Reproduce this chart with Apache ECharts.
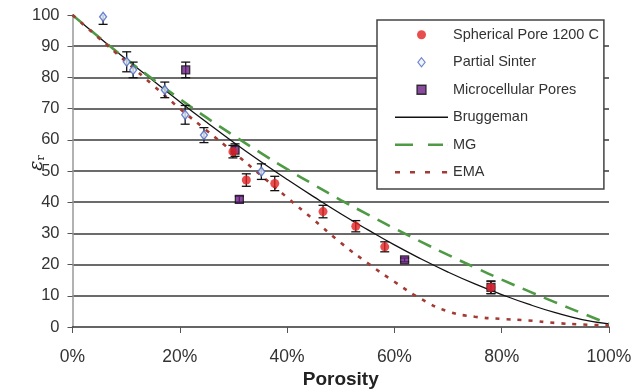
<!DOCTYPE html>
<html>
<head>
<meta charset="utf-8">
<script src="https://cdn.jsdelivr.net/npm/echarts@6/dist/echarts.min.js"></script>
<style>
html,body{margin:0;padding:0;background:#fff;}
#chart{width:634px;height:392px;}
</style>
</head>
<body>
<div id="chart"></div>
<script>
// Model curves (porosity %, permittivity)
const porosityGrid = [0,5,10,15,20,25,30,35,40,45,50,55,60,65,70,75,80,85,90,95,100];
const bruggeman = [100,92.8,85.8,79,72.2,65.6,59.2,53.1,47.3,41.7,36.3,31.2,26.3,21.8,17.6,13.8,10.4,7.3,4.6,2.4,1];
const mg = [100,92.8,85.9,79.4,73.1,67.1,61.4,55.9,50.6,45.6,40.7,36.1,31.6,27.3,23.1,19.1,15.2,11.5,7.9,4.4,1];
const ema = [100,92.5,85,77.5,70,63,56,48.8,41.5,34.3,27,20.5,14.5,9,5,3.3,2.6,2.1,1.3,0.8,0.5];

// Measured points
const sphericalX = [29.9,32.4,37.7,46.7,52.8,58.2,78];
const sphericalY = [56.2,47.1,46,37,32.3,25.7,12.7];
const sphericalErr = [2,2,2.3,2,1.8,1.6,2];

const partialX = [5.7,10.1,11.3,17.2,21,24.5,35.2];
const partialY = [99.4,85,82.4,76,68,61.5,49.8];
const partialErr = [2.4,3.2,2.5,2.5,3,2.4,2.5];

const microX = [21.1,30.3,31.1,61.9,78];
const microY = [82.4,56.7,40.9,21.5,12.7];
const microErr = [2.5,2,1,0.6,2];

const xTicks = [0,20,40,60,80,100];
const yTicks = [0,10,20,30,40,50,60,70,80,90,100];

const FONT = '"Liberation Sans", Arial, sans-serif';

function pairs(xs, ys){ return xs.map((x,i)=>[x, ys[i]]); }
function errData(xs, ys, es){ return xs.map((x,i)=>[x, ys[i]-es[i], ys[i]+es[i]]); }

const allErr = [].concat(
  errData(partialX, partialY, partialErr),
  errData(sphericalX, sphericalY, sphericalErr),
  errData(microX, microY, microErr)
);

function renderErr(params, api){
  const x = api.value(0);
  let lo = api.value(1), hi = api.value(2);
  const yMax = yTicks[yTicks.length-1];
  const clipped = hi > yMax;
  if (clipped) hi = yMax;
  const p1 = api.coord([x, lo]);
  const p2 = api.coord([x, hi]);
  const w = 4.5;
  const st = {stroke:'#111', lineWidth:1.3};
  const ch = [
    {type:'line', shape:{x1:p1[0], y1:p1[1], x2:p2[0], y2:p2[1]}, style:st},
    {type:'line', shape:{x1:p1[0]-w, y1:p1[1], x2:p1[0]+w, y2:p1[1]}, style:st}
  ];
  if (!clipped) ch.push({type:'line', shape:{x1:p2[0]-w, y1:p2[1], x2:p2[0]+w, y2:p2[1]}, style:st});
  return {type:'group', children:ch};
}

const TINY = ' M52.9,0H53V2.6H52.9Z';
const iconSolid = 'path://M0,0.65H53V1.95H0Z';
const iconDash = 'path://M0,0H18V2.6H0Z M33,0H48V2.6H33Z' + TINY;
const iconDot = 'path://M0,0H5V2.6H0Z M15,0H20V2.6H15Z M30,0H35V2.6H30Z M47,0H52V2.6H47Z' + TINY;
const iconDiamond = 'path://M4,0L8,5L4,10L0,5Z';
const iconSquare = 'path://M0,0H10V10H0Z';

const chart = echarts.init(document.getElementById('chart'));
chart.setOption({
  animation:false,
  backgroundColor:'#fff',
  textStyle:{fontFamily:FONT},
  grid:{left:72.5, right:25, top:15, bottom:65, containLabel:false, outerBoundsMode:'none'},
  legend:{
    orient:'vertical',
    left:377, top:20,
    padding:[7,5,9,18],
    backgroundColor:'#fff',
    borderColor:'#444',
    borderWidth:1.5,
    itemWidth:53, itemHeight:9,
    itemGap:12,
    symbolKeepAspect:true,
    textStyle:{fontSize:14.5, color:'#333', fontFamily:FONT, lineHeight:15.5},
    data:[
      {name:'Spherical Pore 1200 C', icon:'circle'},
      {name:'Partial Sinter', icon:iconDiamond, itemStyle:{color:'#eef2fb', borderColor:'#4a68c4', borderWidth:1.2}},
      {name:'Microcellular Pores', icon:iconSquare, itemStyle:{color:'#6a1e86', borderColor:'#111', borderWidth:1.3}},
      {name:'Bruggeman', icon:iconSolid, itemStyle:{color:'#111', borderWidth:0}},
      {name:'MG', icon:iconDash, itemStyle:{color:'#4f9a45', borderWidth:0}},
      {name:'EMA', icon:iconDot, itemStyle:{color:'#a33a34', borderWidth:0}}
    ]
  },
  xAxis:{
    type:'value', min:xTicks[0], max:xTicks[xTicks.length-1], interval:20,
    name:'Porosity', nameLocation:'middle', nameGap:43, nameMoveOverlap:false,
    nameTextStyle:{fontSize:19, fontWeight:'bold', color:'#222', fontFamily:FONT},
    axisLine:{show:true, lineStyle:{color:'#333', width:1.5}},
    axisTick:{show:true, length:6, lineStyle:{color:'#555'}},
    axisLabel:{formatter:'{value}%', fontSize:17.5, color:'#333', margin:21, fontFamily:FONT},
    splitLine:{show:false}
  },
  yAxis:{
    type:'value', min:yTicks[0], max:yTicks[yTicks.length-1], interval:10,
    name:'{e|ε}{r|r}', nameLocation:'middle', nameGap:26, nameRotate:90, nameMoveOverlap:false,
    nameTextStyle:{padding:[0,0,0,16], rich:{
      e:{fontSize:19, fontFamily:'"DejaVu Serif", serif', fontStyle:'italic', color:'#222'},
      r:{fontSize:11, fontFamily:'"DejaVu Serif", serif', color:'#222', verticalAlign:'bottom', padding:[7,0,0,0]}
    }},
    axisLine:{show:true, lineStyle:{color:'#999', width:1.5}},
    axisTick:{show:true, length:5, lineStyle:{color:'#555'}},
    axisLabel:{fontSize:16.5, color:'#333', margin:13, fontFamily:FONT},
    splitLine:{show:true, showMaxLine:false, showMinLine:false, lineStyle:{color:'#3a3a3a', width:1.5}}
  },
  series:[
    {name:'Bruggeman', type:'line', data:pairs(porosityGrid, bruggeman), symbol:'none', smooth:true,
     lineStyle:{color:'#111', width:1.3}, itemStyle:{color:'#111'}, z:3},
    {name:'MG', type:'line', data:pairs(porosityGrid, mg), symbol:'none', smooth:true,
     lineStyle:{color:'#4f9a45', width:2.6, type:[14,9]}, itemStyle:{color:'#4f9a45'}, z:3},
    {name:'EMA', type:'line', data:pairs(porosityGrid, ema), symbol:'none', smooth:true,
     lineStyle:{color:'#a33a34', width:2.6, type:[4,7]}, itemStyle:{color:'#a33a34'}, z:3},
    {name:'errors', type:'custom', data:allErr, renderItem:renderErr, z:4, silent:true},
    {name:'Microcellular Pores', type:'scatter', data:pairs(microX, microY), symbol:'rect', symbolSize:8,
     itemStyle:{color:'#6a1e86', borderColor:'#111', borderWidth:1.3}, z:5},
    {name:'Partial Sinter', type:'scatter', data:pairs(partialX, partialY), symbol:'diamond', symbolSize:[7,9],
     itemStyle:{color:'#e4eaf8', borderColor:'#4a68c4', borderWidth:1.3}, z:5},
    {name:'Spherical Pore 1200 C', type:'scatter', data:pairs(sphericalX, sphericalY), symbol:'circle', symbolSize:9,
     itemStyle:{color:'#e32222'}, z:6}
  ]
});
</script>
</body>
</html>
